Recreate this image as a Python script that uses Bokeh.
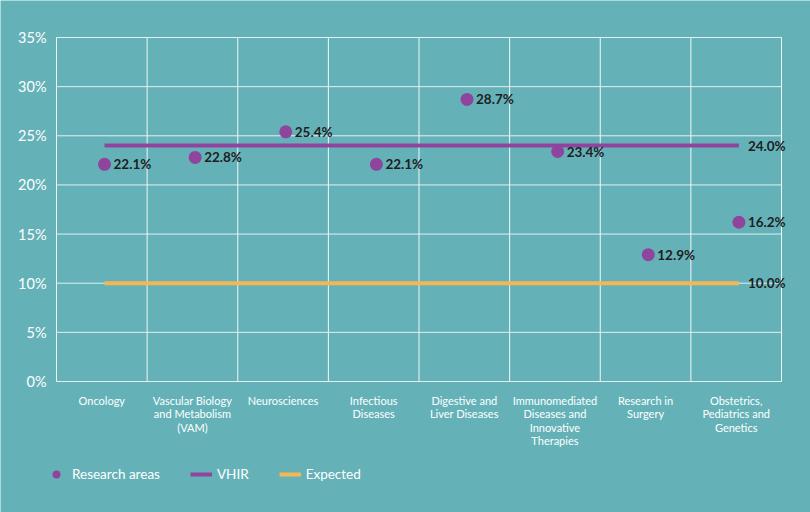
from bokeh.plotting import figure
from bokeh.models import (ColumnDataSource, Legend, LegendItem, Range1d)
from bokeh.core.properties import value
from bokeh.embed import file_html
from bokeh.resources import INLINE

categories = ["Oncology", "Vascular Biology\nand Metabolism\n(VAM)", "Neurosciences",
              "Infectious\nDiseases", "Digestive and\nLiver Diseases",
              "Immunomediated\nDiseases and\nInnovative\nTherapies",
              "Research in\nSurgery", "Obstetrics,\nPediatrics and\nGenetics"]
research_areas = [22.1, 22.8, 25.4, 22.1, 28.7, 23.4, 12.9, 16.2]
vhir = 24.0
expected = 10.0
y_ticks = [0, 5, 10, 15, 20, 25, 30, 35]
legend_labels = ["Research areas", "VHIR", "Expected"]

BG = "#64B2B8"
PURPLE = "#8F459D"
ORANGE = "#F6B654"
FONT = "Lato"

W, H = 810, 512
L, R, T, B = 56, 29, 37, 131          # plot-area margins in pixels
n = len(categories)
ymax = y_ticks[-1]
sx = (W - L - R) / n                  # px per category
sy = (H - T - B) / ymax               # px per percent

xc = [i + 0.5 for i in range(n)]
xm = [i + 0.53 for i in range(n)]
bounds = list(range(n + 1))

p = figure(width=W, height=H, output_backend="svg", toolbar_location=None,
           x_range=Range1d(-L / sx, n + R / sx), y_range=Range1d(-B / sy, ymax + T / sy),
           x_axis_location=None, y_axis_location=None, min_border=0)
p.background_fill_color = BG
p.border_fill_color = BG
p.outline_line_color = None
p.grid.visible = False

# grid lines
p.segment(x0=[0] * len(y_ticks), y0=y_ticks, x1=[n] * len(y_ticks), y1=y_ticks,
          line_color="white", line_alpha=0.8, line_width=1)
p.segment(x0=bounds, y0=[0] * len(bounds), x1=bounds, y1=[ymax] * len(bounds),
          line_color="white", line_alpha=0.9, line_width=1)

# y tick labels
p.text(x=[0] * len(y_ticks), y=y_ticks, text=[f"{t}%" for t in y_ticks],
       x_offset=-10, text_align="right", text_baseline="middle",
       text_font=value(FONT), text_font_size="14.5px", text_color="white")

# category labels
p.text(x=xc, y=[0] * n, text=categories, y_offset=12, text_align="center",
       text_baseline="top", text_font=value(FONT), text_font_size="11px",
       text_color="white", text_line_height=1.05)

src = ColumnDataSource(dict(x=xm, y=research_areas,
                            lab=[f"{v:.1f}%" for v in research_areas]))

p.line([xm[0], xm[-1]], [vhir, vhir], line_color=PURPLE, line_width=4)
p.line([xm[0], xm[-1]], [expected, expected], line_color=ORANGE, line_width=4)
p.scatter("x", "y", source=src, size=13, fill_color=PURPLE, line_color=None)

lab_kw = dict(text_font=value(FONT), text_font_size="13.5px", text_font_style="bold",
              text_color="#1E1E1E", text_baseline="middle", x_offset=9)
p.text("x", "y", text="lab", source=src, **lab_kw)
p.text([xm[-1], xm[-1]], [vhir, expected], text=[f"{vhir:.1f}%", f"{expected:.1f}%"], **lab_kw)

# legend (proxy renderers kept off-screen)
l_pts = p.scatter([-50], [-50], size=14, fill_color=PURPLE, line_color=None)
l_vhir = p.line([-50, -49], [-50, -50], line_color=PURPLE, line_width=4)
l_exp = p.line([-50, -49], [-50, -50], line_color=ORANGE, line_width=4)
legend = Legend(items=[LegendItem(label=legend_labels[0], renderers=[l_pts]),
                       LegendItem(label=legend_labels[1], renderers=[l_vhir]),
                       LegendItem(label=legend_labels[2], renderers=[l_exp])],
                orientation="horizontal", location=(45, 28),
                background_fill_alpha=0, border_line_color=None,
                label_text_color="white", label_text_font=FONT, label_text_font_size="13.5px",
                glyph_width=22, label_standoff=5, spacing=30, padding=0, margin=0)
p.add_layout(legend, "center")

open("out.html", "w").write(file_html(p, INLINE))
